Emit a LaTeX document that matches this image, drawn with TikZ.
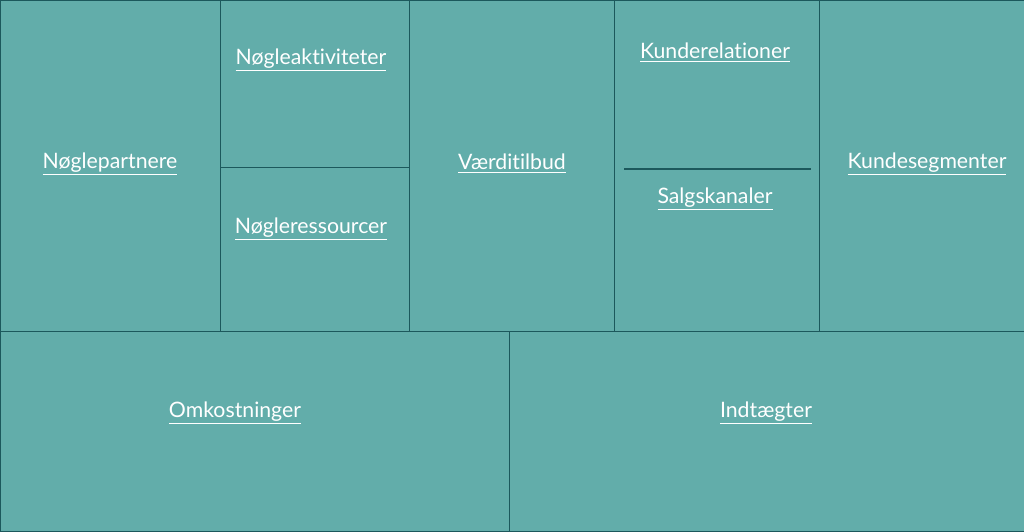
\documentclass[tikz,border=0pt]{standalone}
\usepackage{fontspec}
\setmainfont[RawFeature={-liga;-dlig}]{Lato}
\usetikzlibrary{positioning}
\definecolor{canvasfill}{RGB}{98,173,170}
\definecolor{canvasline}{RGB}{28,88,92}
\tikzset{
  block/.style={draw=canvasline, fill=canvasfill, line width=0.6pt, anchor=north west, inner sep=0pt},
  lbl/.style={text=white, font=\fontsize{12.1}{14}\selectfont},
}
\newcommand{\ul}[1]{\underline{#1}}
\begin{document}
\begin{tikzpicture}[x=0.02cm, y=-0.02cm]
\useasboundingbox (0,0) rectangle (1024,531);

% top row
\node[block, minimum width=4.4cm,  minimum height=6.62cm] (partners) at (0,0) {};
\node[block, minimum width=3.78cm, minimum height=3.34cm] (activities) at (220,0) {};
\node[block, minimum width=3.78cm, minimum height=3.28cm] (resources) at (220,167) {};
\node[block, minimum width=4.1cm,  minimum height=6.62cm] (value) at (409,0) {};
\node[block, minimum width=4.1cm,  minimum height=6.62cm] (relations) at (614,0) {};
\node[block, minimum width=4.1cm,  minimum height=6.62cm] (segments) at (819,0) {};

% bottom row
\node[block, minimum width=10.18cm, minimum height=4.0cm] (costs) at (0,331) {};
\node[block, minimum width=10.3cm,  minimum height=4.0cm] (revenue) at (509,331) {};

% divider between relations and channels
\coordinate (divL) at (624,169);
\coordinate (divR) at (811,169);
\draw[canvasline, line width=0.6pt] (divL) -- (divR);

% labels
\node[lbl] (tpartners) at (110,164) {\ul{Nøglepartnere}};
\node[lbl] (tactivities) at (311,60) {\ul{Nøgleaktiviteter}};
\node[lbl] (tresources) at (311,229) {\ul{Nøgleressourcer}};
\node[lbl] (tvalue) at (512,164) {\ul{Værditilbud}};
\node[lbl] (trelations) at (715,53) {\ul{Kunderelationer}};
\node[lbl] (tchannels) at (715,199) {\ul{Salgskanaler}};
\node[lbl] (tsegments) at (927,164) {\ul{Kundesegmenter}};
\node[lbl] (tcosts) at (235,413) {\ul{Omkostninger}};
\node[lbl] (trevenue) at (766,413) {\ul{Indtægter}};
\end{tikzpicture}
\end{document}
